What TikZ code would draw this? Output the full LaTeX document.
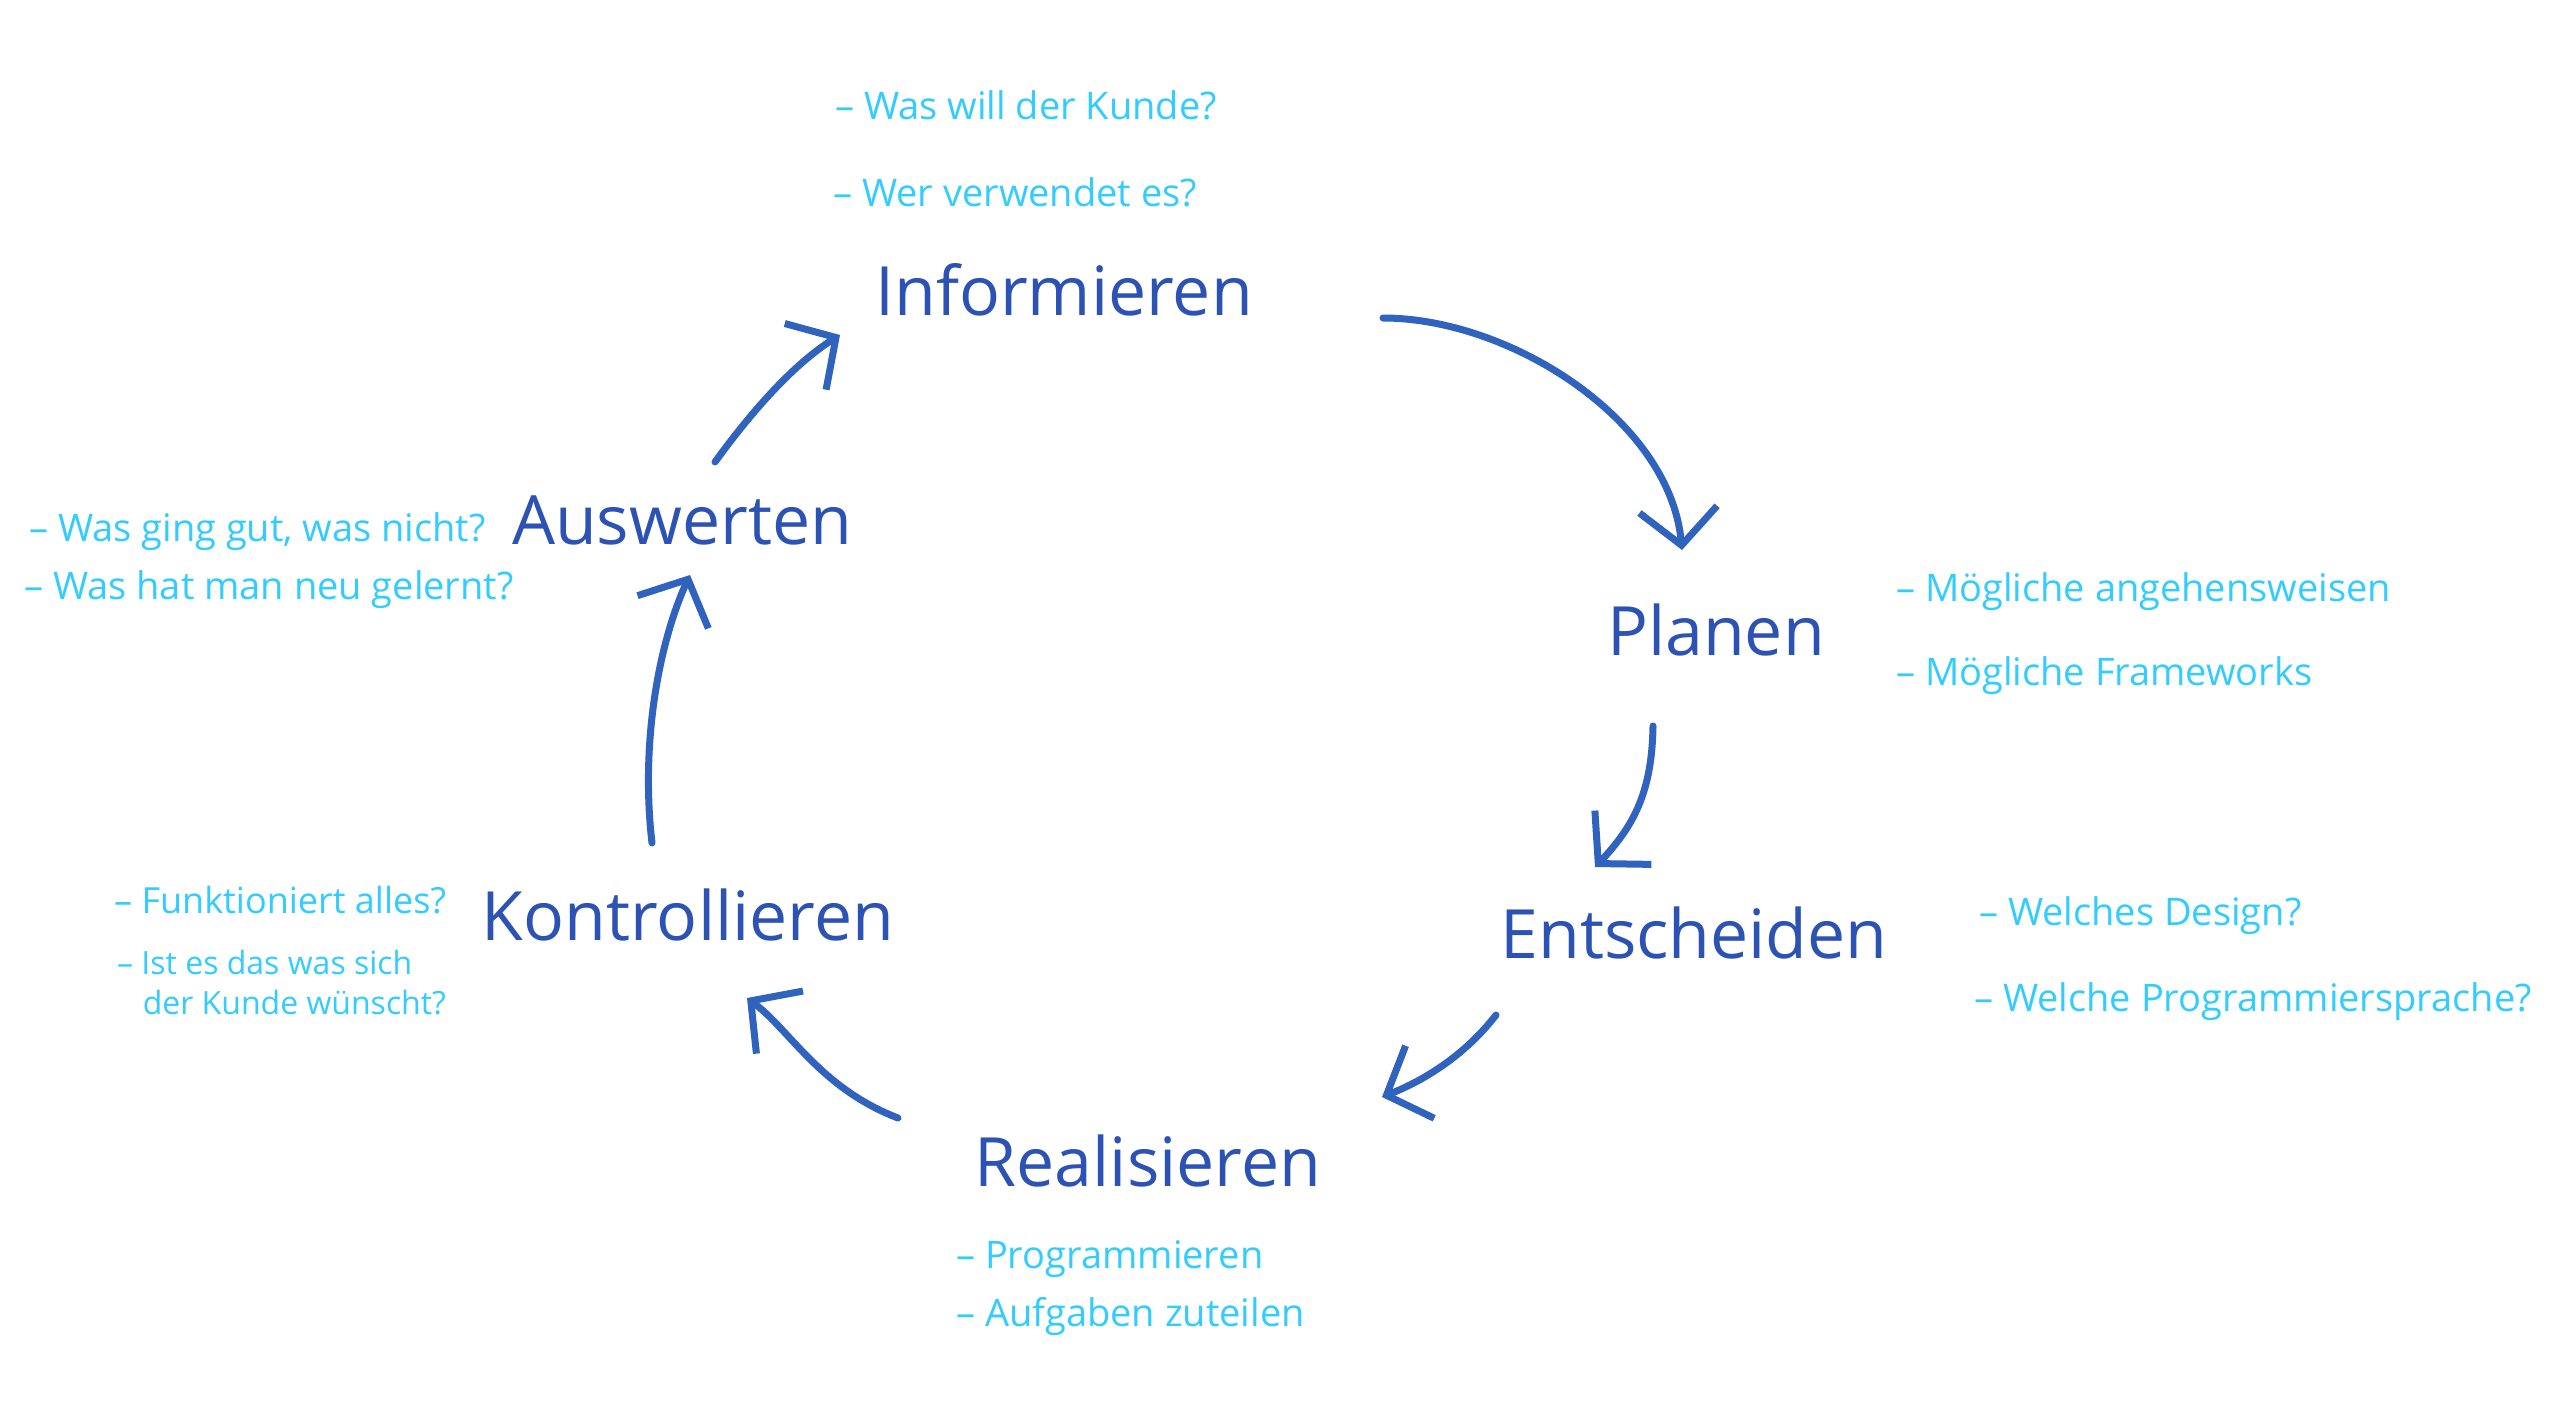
\documentclass[tikz,border=0pt]{standalone}
\usepackage{fontspec}
\setmainfont{Open Sans}
\usetikzlibrary{arrows.meta}
\definecolor{mainblue}{HTML}{2C52B3}
\definecolor{arrowblue}{HTML}{2F63BE}
\definecolor{noteblue}{HTML}{33CCFF}
\tikzset{
  phase/.style={text=mainblue, font=\fontsize{68}{74}\selectfont, inner sep=0pt},
  note/.style={text=noteblue, font=\fontsize{38}{46}\selectfont, anchor=west, inner sep=0pt, align=left},
  smallnote/.style={note, font=\fontsize{32}{40}\selectfont},
  flow/.style={draw=arrowblue, line width=7pt, line cap=round, line join=round,
    -{Straight Barb[length=36pt,width=78pt,line width=7pt]}}
}
\begin{document}
\begin{tikzpicture}[x=1pt,y=-1pt]
\useasboundingbox (0,0) rectangle (2558,1424);
\fill[white] (0,0) rectangle (2558,1424);
% phases
\node[phase] (inf) at (1064,290) {Informieren};
\node[phase] (pla) at (1716,630) {Planen};
\node[phase] (ent) at (1694,933) {Entscheiden};
\node[phase] (rea) at (1148,1161) {Realisieren};
\node[phase] (kon) at (688,915) {Kontrollieren};
\node[phase] (aus) at (682,520) {Auswerten};
% notes
\node[note] (n1) at (835,105) {– Was will der Kunde?};
\node[note] (n2) at (833,192) {– Wer verwendet es?};
\node[note] (n3) at (1896,592) {– Mögliche angehensweisen};
\node[note] (n4) at (1896,676) {– Mögliche Frameworks};
\node[note] (n5) at (1979,916) {– Welches Design?};
\node[note] (n6) at (1974,1002) {– Welche Programmiersprache?};
\node[note] (n7) at (956,1259) {– Programmieren};
\node[note] (n8) at (956,1317) {– Aufgaben zuteilen};
\node[note, font=\fontsize{36}{44}\selectfont] (n9) at (114,900) {– Funktioniert alles?};
\node[smallnote] (n10) at (117,983) {– Ist es das was sich\\\hspace*{0.8em}der Kunde wünscht?};
\node[note] (n11) at (29,532) {– Was ging gut, was nicht?};
\node[note] (n12) at (24,590) {– Was hat man neu gelernt?};
% cycle arrows
\draw[flow] ([shift={(319,28)}]inf.center) .. controls (1510,318) and (1670,420) .. ([shift={(-34,-80)}]pla.center);
\draw[flow] ([shift={(-63,96)}]pla.center) .. controls (1652,790) and (1635,825) .. ([shift={(-99,-66)}]ent.center);
\draw[flow] ([shift={(-198,82)}]ent.center) .. controls (1465,1055) and (1425,1080) .. ([shift={(234,-64)}]rea.center);
\draw[flow] ([shift={(-250,-43)}]rea.center) .. controls (820,1088) and (790,1030) .. ([shift={(59,83)}]kon.center);
\draw[flow] ([shift={(-36,-72)}]kon.center) .. controls (640,740) and (660,640) .. ([shift={(8,55)}]aus.center);
\draw[flow] ([shift={(33,-58)}]aus.center) .. controls (760,400) and (800,360) .. ([shift={(-224,45)}]inf.center);
\end{tikzpicture}
\end{document}
